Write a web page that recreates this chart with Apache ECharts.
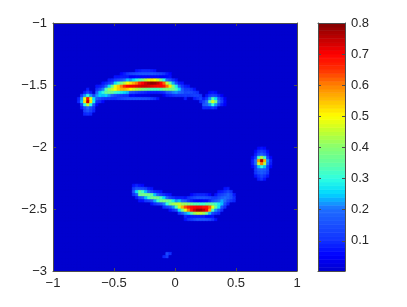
<!DOCTYPE html>
<html>
<head>
<meta charset="utf-8">
<style>html,body{margin:0;padding:0;background:#fff}#c{width:407px;height:307px}</style>
<script src="https://cdn.jsdelivr.net/npm/echarts@6/dist/echarts.min.js"></script>
</head>
<body>
<div id="c"></div>
<script>
// Field values are in hundredths; each slice: [column, first row, values down that column]
var backgroundLevel = 0.5;
var spotLeft = [[8,24,[8,9]],[9,23,[12,22,24,13,8]],[10,22,[8,22,48,52,30,14,13,9]],[11,21,[8,13,30,68,74,46,20,16,10]],[12,22,[8,22,48,52,30,14,13,9]],[13,23,[14,26,28,16,10,9]]];
var arcUpper = [[14,20,[7,10,18,22,17,10,6]],[15,20,[8,14,25,25,14,9]],[16,19,[7,10,21,30,24,12,6]],[17,19,[9,18,33,36,25,11]],[18,18,[8,12,26,41,38,22,11]],[19,18,[9,16,36,46,36,17,10]],[20,17,[7,12,26,48,50,32,14,8]],[21,17,[7,14,32,54,54,30,12]],[22,17,[8,16,38,60,56,28,11]],[23,17,[8,20,44,66,56,26,10]],[24,17,[8,24,50,70,54,24,10]],[25,17,[5,22,52,71,50,16,5]],[26,17,[5,26,56,71,47,15,6]],[27,17,[6,30,60,72,44,13,4]],[28,17,[6,34,66,73,42,11,4]],[29,17,[6,38,70,74,40,10,3]],[30,17,[6,44,74,74,38,9,3]],[31,17,[6,48,77,73,36,8,3]],[32,17,[6,52,79,72,34,8]],[33,17,[6,50,78,71,33,8]],[34,17,[6,46,75,70,33,8]],[35,17,[5,38,70,70,35,9]],[36,17,[5,30,62,68,38,10,4]],[37,17,[6,20,45,61,39,16,8]],[38,17,[7,15,35,52,38,17,9]],[39,18,[10,23,39,38,21,10]],[40,18,[7,14,28,33,22,11]],[41,19,[8,18,26,20,11]],[42,19,[7,11,17,18,11]],[43,20,[8,12,14,12,8]]];
var strand = [[44,20,[7,12,15,11]],[45,21,[10,14,12]],[46,21,[7,12,13,8]],[47,22,[10,13,10]],[48,23,[11,13,9]]];
var spotMiddle = [[49,24,[8,13,16,9]],[50,23,[7,12,20,18,9]],[51,22,[6,11,22,36,22,9]],[52,22,[7,13,34,47,30,11]],[53,22,[6,12,26,38,22,9]],[54,23,[8,16,20,13]],[55,23,[5,10,12,8]],[56,24,[5,6,5]]];
var spotRight = [[65,43,[6,8,8,6]],[66,41,[6,8,12,20,20,12,12,11,7]],[67,40,[6,10,14,32,58,46,24,17,15,10,6]],[68,40,[7,12,18,44,76,60,30,18,17,13,9]],[69,40,[6,10,14,32,56,44,24,17,15,10,6]],[70,41,[6,8,13,22,20,12,13,11,7]],[71,43,[6,9,8,6]],[67,50,[8]],[68,50,[10]],[69,50,[7]]];
var arcLower = [[26,52,[7,12,16,10]],[27,52,[9,16,26,16,8]],[28,52,[7,15,36,36,14,7]],[29,52,[6,14,32,38,17,7]],[30,53,[12,24,38,24,11]],[31,53,[8,18,38,32,13]],[32,53,[7,13,34,37,16,7]],[33,54,[9,24,38,23,10]],[34,54,[8,18,37,32,13]],[35,54,[7,13,33,37,15]],[36,55,[10,26,39,21,10]],[37,55,[8,19,38,30,13]],[38,55,[7,13,35,38,16,7]],[39,56,[10,28,42,22,10]],[40,56,[8,22,44,33,14]],[41,56,[8,24,46,46,26,11]],[42,56,[8,19,42,56,38,16]],[43,57,[17,42,63,48,22,9]],[44,57,[11,40,67,60,26,7]],[45,57,[8,36,69,68,34,8]],[46,57,[6,34,70,74,42,8]],[47,57,[5,34,71,78,46,8]],[48,57,[5,32,70,78,46,8]],[49,57,[6,32,68,75,43,8]],[50,57,[6,35,68,70,36,6]],[51,57,[9,36,62,57,24,6]],[52,56,[10,14,34,48,33,14,7]],[53,55,[7,12,17,32,36,22,11]],[54,54,[7,11,15,20,28,27,16,9]],[55,54,[8,13,18,23,24,16,10]],[56,53,[7,10,15,20,20,15,10]],[57,53,[8,13,18,18,14,9]],[58,54,[10,14,15,11]],[59,55,[8,10,9]]];
var speck = [[36,75,[9]],[37,74,[14,12]],[38,74,[10]]];
// Ripples beside the arcs: [row, first column, values along that row]
var rippleRows = [[16,22,[6,8,11,13,14,15,16,16,16,16,16,15,14,13,11,8,6]],[15,27,[7,8,9,9,9,8,7]],[24,19,[7,10,12,13,14,15,16,16,16,16,15,15,14,12,10,7]],[56,43,[7,10,12,14,16,16,16,15,14,12]],[55,45,[6,8,9,9,9,8,6]],[63,43,[7,10,12,14,16,16,16,15,14,11,7]]];
var xTicks = [-1,-0.5,0,0.5,1];
var yTicks = [-3,-2.5,-2,-1.5,-1];
var barTicks = [0.1,0.2,0.3,0.4,0.5,0.6,0.7,0.8];
var barMin = 0.003, barMax = 0.8;
var barLevels = [0.009,0.022,0.034,0.047,0.059,0.072,0.084,0.096,0.109,0.121,0.134,0.146,0.159,0.171,0.183,0.196,0.208,0.221,0.233,0.246,0.258,0.271,0.283,0.295,0.308,0.320,0.333,0.345,0.358,0.370,0.383,0.395,0.407,0.420,0.432,0.445,0.457,0.470,0.482,0.495,0.507,0.519,0.532,0.544,0.557,0.569,0.582,0.594,0.606,0.619,0.631,0.644,0.656,0.669,0.681,0.694,0.706,0.718,0.731,0.743,0.756,0.768,0.781,0.793];
var barStep = 0.01245;
var cellStep = 0.025;
var palette = ['#0000cd','#0000ff','#1032ff','#1a50ff','#1e6eff','#00d8ff','#30ffe0','#60ffa0','#88ff70','#c0ff30','#ffff00','#ffc000','#ff8000','#ff3000','#ff0000','#c00000','#800000'];

var cols = 80, rows = 80, field = [], r, c;
for (r = 0; r < rows; r++) { field.push([]); for (c = 0; c < cols; c++) field[r].push(backgroundLevel); }
[spotLeft, arcUpper, strand, spotMiddle, spotRight, arcLower, speck].forEach(function (list) {
  list.forEach(function (s) { s[2].forEach(function (v, i) { var rr = s[1] + i; field[rr][s[0]] = Math.max(field[rr][s[0]], v); }); });
});
rippleRows.forEach(function (s) { s[2].forEach(function (v, i) { var cc = s[1] + i; field[s[0]][cc] = Math.max(field[s[0]][cc], v); }); });
var cells = [];
for (r = 0; r < rows; r++) for (c = 0; c < cols; c++) cells.push([-1 + c * cellStep, -1 - r * cellStep, field[r][c] / 100]);
var barCells = barLevels.map(function (v) { return [0, v + barStep / 2, v]; });

function cellRenderer(w, h) {
  return function (params, api) {
    var p = api.coord([api.value(0), api.value(1)]);
    var s = api.size([w, h]);
    var col = api.visual('color');
    return {type: 'rect', shape: {x: p[0], y: p[1], width: s[0], height: s[1]},
      style: {fill: col, stroke: col, lineWidth: 0.7}, silent: true};
  };
}
var ink = '#262626', line = '#4d4d4d';
var font = {color: ink, fontFamily: 'Liberation Sans, Arial, sans-serif', fontSize: 13};
function minus(v) { return String(v).replace('-', '\u2212'); }
function frameAxis(extra) {
  return Object.assign({
    type: 'value', splitLine: {show: false}, z: 6,
    axisLine: {show: true, onZero: false, lineStyle: {color: line, width: 1}},
    axisTick: {show: true, inside: true, length: 3, lineStyle: {color: line, width: 1}}
  }, extra);
}
var chart = echarts.init(document.getElementById('c'), null, {renderer: 'canvas'});
chart.setOption({
  animation: false,
  backgroundColor: '#fff',
  grid: [
    {left: 53, top: 23, width: 244, height: 248, show: true, backgroundColor: palette[0], borderWidth: 0},
    {left: 318, top: 23, width: 27, height: 248}
  ],
  xAxis: [
    frameAxis({gridIndex: 0, position: 'bottom', min: xTicks[0], max: xTicks[4], interval: 0.5,
      axisLabel: Object.assign({formatter: minus, margin: 6}, font)}),
    frameAxis({gridIndex: 0, position: 'top', min: xTicks[0], max: xTicks[4], interval: 0.5, axisLabel: {show: false}}),
    frameAxis({gridIndex: 1, position: 'bottom', min: 0, max: 1, axisTick: {show: false}, axisLabel: {show: false}}),
    frameAxis({gridIndex: 1, position: 'top', min: 0, max: 1, axisTick: {show: false}, axisLabel: {show: false}})
  ],
  yAxis: [
    frameAxis({gridIndex: 0, position: 'left', min: yTicks[0], max: yTicks[4], interval: 0.5,
      axisLabel: Object.assign({formatter: minus, margin: 6}, font)}),
    frameAxis({gridIndex: 0, position: 'right', min: yTicks[0], max: yTicks[4], interval: 0.5, axisLabel: {show: false}}),
    frameAxis({gridIndex: 1, position: 'left', min: barMin, max: barMax,
      axisTick: {show: true, inside: true, length: 3, customValues: barTicks, lineStyle: {color: line}},
      axisLabel: {show: false}}),
    frameAxis({gridIndex: 1, position: 'right', min: barMin, max: barMax,
      axisTick: {show: true, inside: true, length: 3, customValues: barTicks, lineStyle: {color: line}},
      axisLabel: Object.assign({customValues: barTicks, margin: 6, formatter: function (v) { return String(v); }}, font)})
  ],
  visualMap: {type: 'continuous', show: false, min: barMin, max: barMax, dimension: 2, seriesIndex: [0, 1], inRange: {color: palette}},
  series: [
    {type: 'custom', xAxisIndex: 0, yAxisIndex: 0, data: cells, renderItem: cellRenderer(cellStep, cellStep), progressive: 0, clip: true, silent: true, encode: {x: 0, y: 1}},
    {type: 'custom', xAxisIndex: 2, yAxisIndex: 2, data: barCells, renderItem: cellRenderer(1, barStep), progressive: 0, clip: true, silent: true, encode: {x: 0, y: 1}}
  ]
});
</script>
</body>
</html>
